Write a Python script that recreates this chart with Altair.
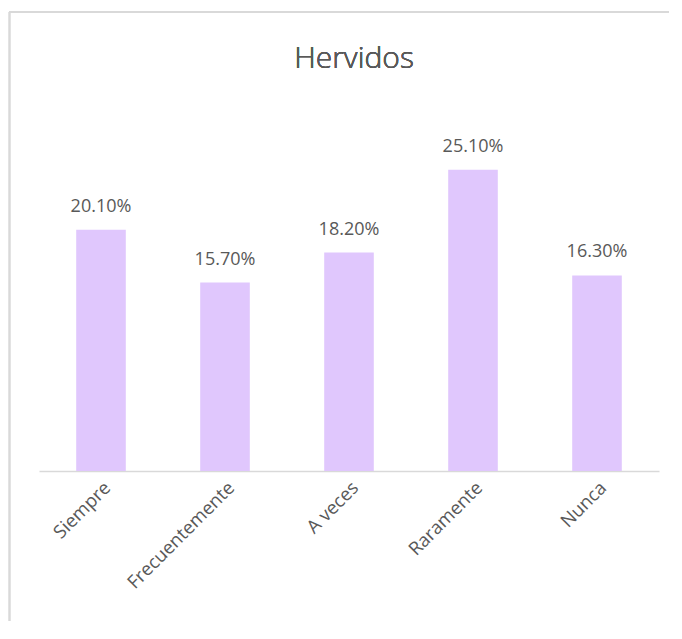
import altair as alt
import pandas as pd

categories = ["Siempre", "Frecuentemente", "A veces", "Raramente", "Nunca"]
values = [0.201, 0.157, 0.182, 0.251, 0.163]
labels = ["20.10%", "15.70%", "18.20%", "25.10%", "16.30%"]
title_text = "Hervidos"

df = pd.DataFrame({"cat": categories, "val": values, "lab": labels})

W, H = 620, 360
FONT = "Open Sans"
TXT = "#595959"

x = alt.X("cat:N", sort=categories, title=None,
          scale=alt.Scale(paddingInner=0.6, paddingOuter=0.3),
          axis=alt.Axis(labelAngle=-45, labelAlign="right", labelBaseline="top",
                        labelPadding=7, labelOffset=0, ticks=False, domainColor="#D9D9D9",
                        domainWidth=1.5, labelColor=TXT, labelFontSize=18.5,
                        labelFont=FONT))
y = alt.Y("val:Q", scale=alt.Scale(domain=[0, 0.30]), axis=None)

base = alt.Chart(df)
bars = base.mark_bar(color="#E0C7FD").encode(x=x, y=y)
text = base.mark_text(font=FONT, fontSize=18, color=TXT, baseline="alphabetic", dy=-18).encode(
    x=alt.X("cat:N", sort=categories), y="val:Q", text="lab:N")

title = base.mark_text(font=FONT, fontSize=30, fontWeight=300, color=TXT,
                       baseline="alphabetic", align="center").encode(
    x=alt.value(W / 2 + 5), y=alt.value(-43), text=alt.value(title_text))

border_top = base.mark_rule(color="#D9D9D9", strokeWidth=1.5).encode(
    x=alt.value(-30), x2=alt.value(660), y=alt.value(-99))
border_left = base.mark_rule(color="#D9D9D9", strokeWidth=1.5).encode(
    x=alt.value(-29.5), y=alt.value(-99), y2=alt.value(520))

chart = alt.layer(border_top, border_left, bars, text, title).properties(
    width=W, height=H,
    autosize=alt.AutoSizeParams(type="none"),
    padding={"left": 31, "top": 103, "right": 10, "bottom": 150},
).configure_view(stroke=None)

chart.save("out.html", embed_options={"renderer": "svg", "actions": False})
